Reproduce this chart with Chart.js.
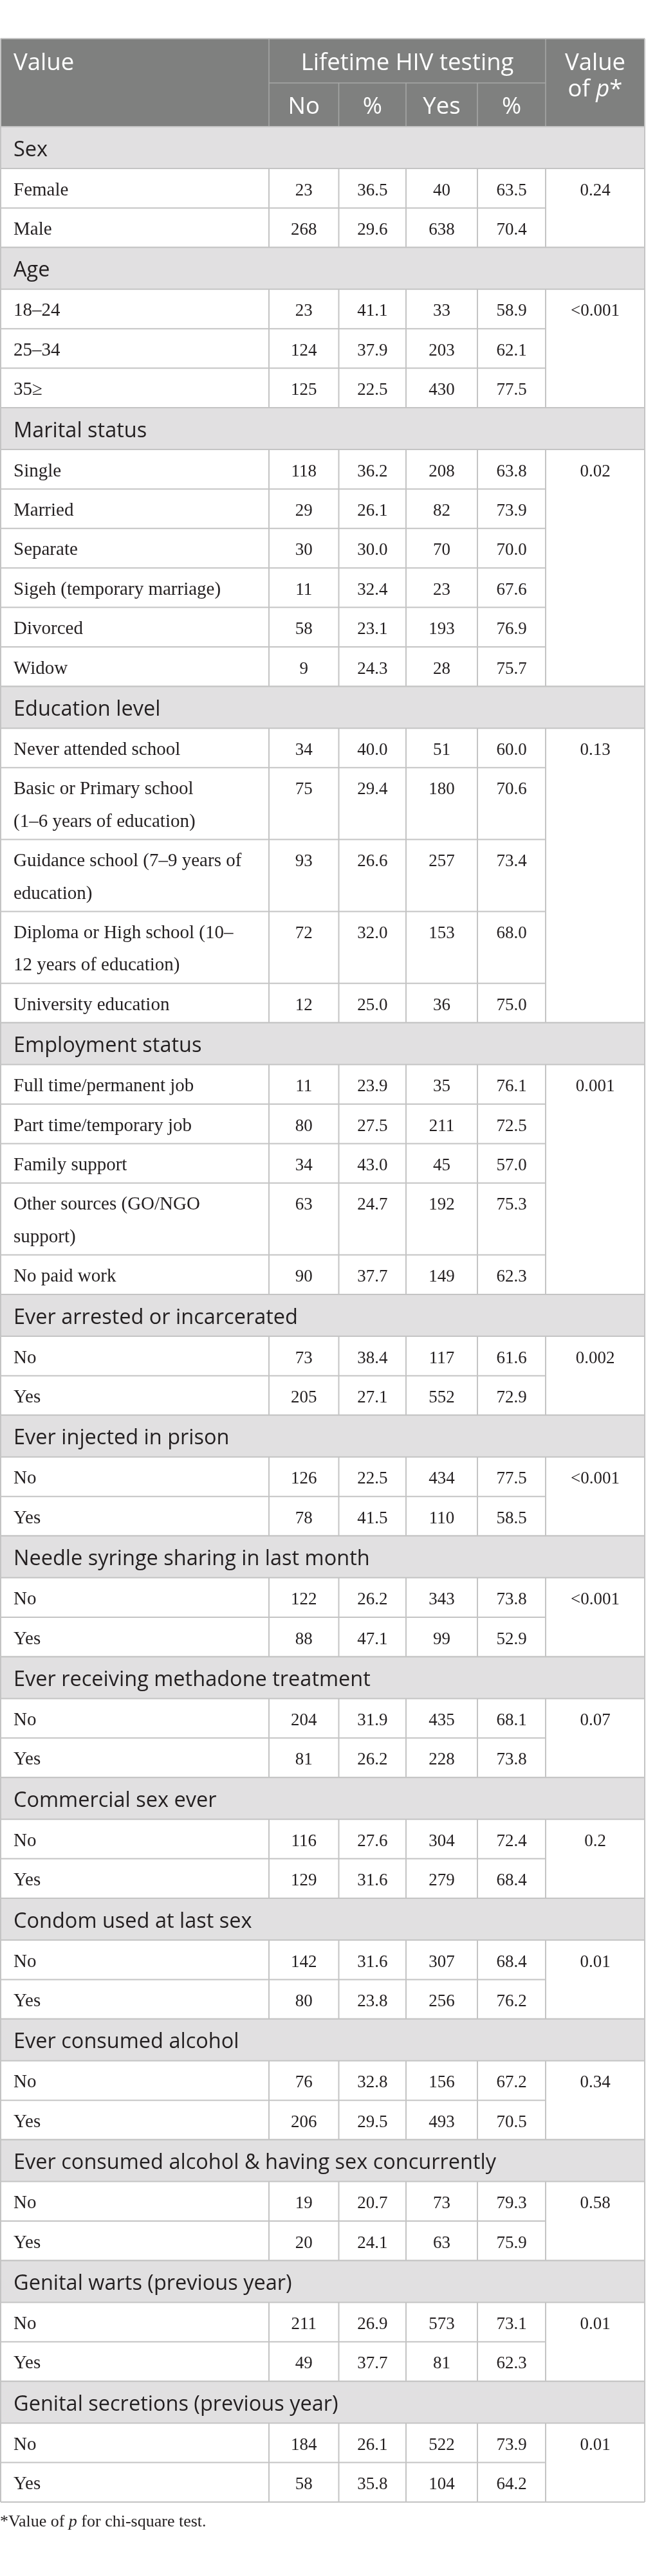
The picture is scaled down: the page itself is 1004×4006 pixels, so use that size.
<!DOCTYPE html>
<html><head><meta charset="utf-8">
<script src="https://cdn.jsdelivr.net/npm/chart.js@4.4.1/dist/chart.umd.min.js"></script>
<style>html,body{margin:0;padding:0;background:#fff}#wrap{position:relative;width:1004px;height:4006px}</style>
</head><body><div id="wrap"><canvas id="c" width="1004" height="4006"></canvas></div>
<script>
const titleHeader = "Lifetime HIV testing";
const columnHeaders = ["No", "%", "Yes", "%"];
const groupNames = ["Sex","Age","Marital status","Education level","Employment status","Ever arrested or incarcerated","Ever injected in prison","Needle syringe sharing in last month","Ever receiving methadone treatment","Commercial sex ever","Condom used at last sex","Ever consumed alcohol","Ever consumed alcohol & having sex concurrently","Genital warts (previous year)","Genital secretions (previous year)"];
const rowLabels = [
 ["Female","Male"],
 ["18–24","25–34","35≥"],
 ["Single","Married","Separate","Sigeh (temporary marriage)","Divorced","Widow"],
 ["Never attended school","Basic or Primary school\n(1–6 years of education)","Guidance school (7–9 years of\neducation)","Diploma or High school (10–\n12 years of education)","University education"],
 ["Full time/permanent job","Part time/temporary job","Family support","Other sources (GO/NGO\nsupport)","No paid work"],
 ["No","Yes"],["No","Yes"],["No","Yes"],["No","Yes"],["No","Yes"],["No","Yes"],["No","Yes"],["No","Yes"],["No","Yes"],["No","Yes"]
];
const noCounts = [[23,268],[23,124,125],[118,29,30,11,58,9],[34,75,93,72,12],[11,80,34,63,90],[73,205],[126,78],[122,88],[204,81],[116,129],[142,80],[76,206],[19,20],[211,49],[184,58]];
const noPercents = [[36.5,29.6],[41.1,37.9,22.5],[36.2,26.1,30.0,32.4,23.1,24.3],[40.0,29.4,26.6,32.0,25.0],[23.9,27.5,43.0,24.7,37.7],[38.4,27.1],[22.5,41.5],[26.2,47.1],[31.9,26.2],[27.6,31.6],[31.6,23.8],[32.8,29.5],[20.7,24.1],[26.9,37.7],[26.1,35.8]];
const yesCounts = [[40,638],[33,203,430],[208,82,70,23,193,28],[51,180,257,153,36],[35,211,45,192,149],[117,552],[434,110],[343,99],[435,228],[304,279],[307,256],[156,493],[73,63],[573,81],[522,104]];
const yesPercents = [[63.5,70.4],[58.9,62.1,77.5],[63.8,73.9,70.0,67.6,76.9,75.7],[60.0,70.6,73.4,68.0,75.0],[76.1,72.5,57.0,75.3,62.3],[61.6,72.9],[77.5,58.5],[73.8,52.9],[68.1,73.8],[72.4,68.4],[68.4,76.2],[67.2,70.5],[79.3,75.9],[73.1,62.3],[73.9,64.2]];
const pValues = ["0.24","<0.001","0.02","0.13","0.001","0.002","<0.001","<0.001","0.07","0.2","0.01","0.34","0.58","0.01","0.01"];
const footnote = ["*Value of ", "p", " for chi-square test."];

// layout (pixel-space scale units)
const COLS = [1, 418, 526.5, 631, 742, 848, 1002];
const HEAD_TOP = 60, HEAD_MID = 129, HEAD_BOT = 197;
const GROUP_H = 65, ROW_H = 61.4, LINE_H = 50.4;
const SANS = "'Open Sans'", SERIF = "'Liberation Serif'";

const tablePlugin = {
  id: 'tableDraw',
  afterDraw(chart) {
    const ctx = chart.ctx, sx = chart.scales.x, sy = chart.scales.y;
    const X = v => sx.getPixelForValue(v), Y = v => sy.getPixelForValue(v);
    const line = (x1,y1,x2,y2,col,w) => { ctx.strokeStyle = col; ctx.lineWidth = w; ctx.beginPath(); ctx.moveTo(X(x1),Y(y1)); ctx.lineTo(X(x2),Y(y2)); ctx.stroke(); };
    const text = (s,x,y,font,col,align) => { ctx.font = font; ctx.fillStyle = col; ctx.textAlign = align; ctx.textBaseline = 'alphabetic'; ctx.fillText(s, X(x), Y(y)); };
    ctx.save();
    // header
    ctx.fillStyle = '#7f807f';
    ctx.fillRect(X(COLS[0]), Y(HEAD_TOP), X(COLS[6]) - X(COLS[0]), Y(HEAD_BOT) - Y(HEAD_TOP));
    const hl = '#a7a8a7';
    line(COLS[1], HEAD_TOP, COLS[1], HEAD_BOT, hl, 1.5);
    line(COLS[5], HEAD_TOP, COLS[5], HEAD_BOT, hl, 1.5);
    for (let c = 2; c <= 4; c++) line(COLS[c], HEAD_MID, COLS[c], HEAD_BOT, hl, 1.5);
    line(COLS[1], HEAD_MID, COLS[5], HEAD_MID, hl, 1.5);
    line(COLS[0], HEAD_TOP, COLS[6], HEAD_TOP, '#c4c4c4', 2);
    const hf = "36.5px " + SANS;
    text("Value", 21, 109, hf, '#fff', 'left');
    text(titleHeader, (COLS[1] + COLS[5]) / 2, 109, hf, '#fff', 'center');
    for (let c = 0; c < 4; c++) text(columnHeaders[c], (COLS[c+1] + COLS[c+2]) / 2, 177, hf, '#fff', 'center');
    const pc = (COLS[5] + COLS[6]) / 2;
    text("Value", pc, 109, hf, '#fff', 'center');
    ctx.font = hf; const w1 = ctx.measureText("of ").width, w3 = ctx.measureText("*").width;
    ctx.font = "italic " + hf; const w2 = ctx.measureText("p").width;
    let sxp = X(pc) - (w1 + w2 + w3) / 2;
    ctx.fillStyle = '#fff'; ctx.textAlign = 'left';
    ctx.font = hf; ctx.fillText("of ", sxp, Y(150));
    ctx.font = "italic " + hf; ctx.fillText("p", sxp + w1, Y(150));
    ctx.font = hf; ctx.fillText("*", sxp + w1 + w2, Y(150));

    // body
    const bl = '#c4c4c4';
    const gf = "32.5px " + SANS, lf = "29px " + SERIF, nf = "27px " + SERIF;
    const ink = '#231f20';
    let y = HEAD_BOT;
    for (let g = 0; g < groupNames.length; g++) {
      ctx.fillStyle = '#e1e0e1';
      ctx.fillRect(X(COLS[0]), Y(y), X(COLS[6]) - X(COLS[0]), Y(y + GROUP_H) - Y(y));
      line(COLS[0], y, COLS[6], y, bl, 2);
      text(groupNames[g], 21, y + 45.5, gf, ink, 'left');
      y += GROUP_H;
      line(COLS[0], y, COLS[6], y, bl, 2);
      const gTop = y;
      const labels = rowLabels[g];
      for (let r = 0; r < labels.length; r++) {
        const parts = labels[r].split("\n");
        const h = ROW_H + LINE_H * (parts.length - 1);
        parts.forEach((p, i) => text(p, 21, y + 41.5 + i * LINE_H, lf, ink, 'left'));
        const vals = [String(noCounts[g][r]), noPercents[g][r].toFixed(1), String(yesCounts[g][r]), yesPercents[g][r].toFixed(1)];
        vals.forEach((v, c) => text(v, (COLS[c+1] + COLS[c+2]) / 2, y + 41.5, nf, ink, 'center'));
        if (r === 0) text(pValues[g], pc, y + 41.5, nf, ink, 'center');
        y += h;
        line(COLS[0], y, r === labels.length - 1 ? COLS[6] : COLS[5], y, bl, 2);
      }
      for (let c = 1; c <= 5; c++) line(COLS[c], gTop, COLS[c], y, bl, 2);
    }
    line(COLS[0], HEAD_TOP, COLS[0], y, bl, 2);
    line(COLS[6], HEAD_TOP, COLS[6], y, bl, 2);
    // footnote
    const ff = "26px " + SERIF;
    ctx.fillStyle = ink; ctx.textAlign = 'left';
    let fx = X(0);
    footnote.forEach((s, i) => { ctx.font = (i === 1 ? "italic " : "") + ff; ctx.fillText(s, fx, Y(y + 38)); fx += ctx.measureText(s).width; });
    ctx.restore();
  }
};

new Chart(document.getElementById('c'), {
  type: 'scatter',
  data: { datasets: [] },
  options: {
    responsive: false, devicePixelRatio: 1, animation: false,
    layout: { padding: 0 },
    plugins: { legend: { display: false }, tooltip: { enabled: false } },
    scales: {
      x: { type: 'linear', min: 0, max: 1004, display: false },
      y: { type: 'linear', min: 0, max: 4006, reverse: true, display: false }
    }
  },
  plugins: [tablePlugin]
});
</script></body></html>
